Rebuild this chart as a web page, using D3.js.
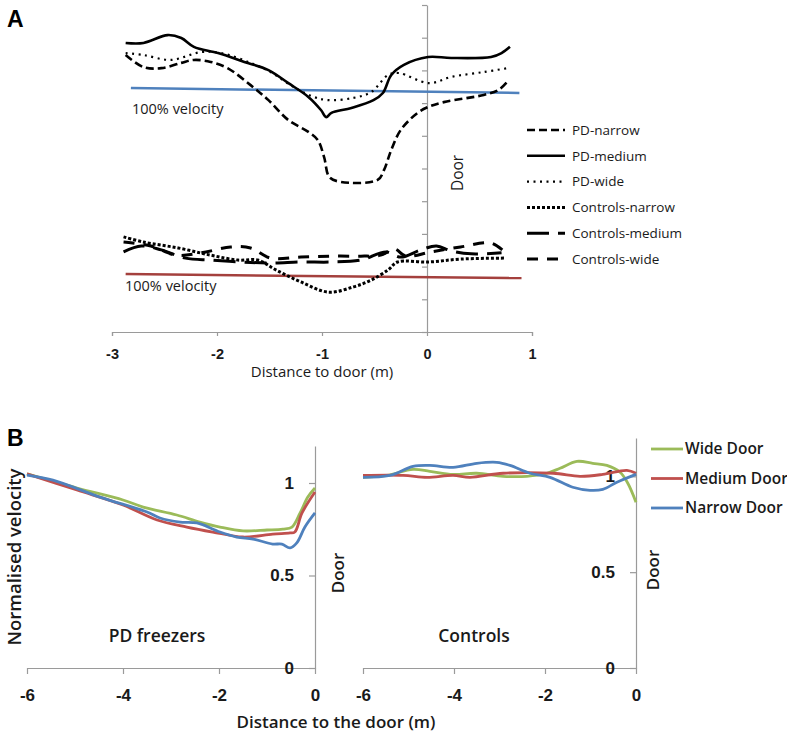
<!DOCTYPE html>
<html>
<head>
<meta charset="utf-8">
<script src="https://cdn.jsdelivr.net/npm/d3@7"></script>
<style>
  body { margin: 0; background: #fff; }
  svg { font-family: "Open Sans", "Liberation Sans", sans-serif; }
  .axis path, .axis line { stroke: #9a9a9a; stroke-width: 1.2; }
  .axis text { fill: #1a1a1a; }
  .axisA text { font-size: 14.5px; font-weight: 600; }
  .axisB text { font-size: 17px; font-weight: 700; }
</style>
</head>
<body>
<div id="vis"></div>
<script>
// ---- panel A data (distance to door m, velocity in grid units) ----
var aTicksX = [-3, -2, -1, 0, 1];
var aTicksY = [0, 1, 2, 3, 4, 5, 6, 7, 8, 9, 10];
var aSeries = ['PD-narrow', 'PD-medium', 'PD-wide', 'Controls-narrow', 'Controls-medium', 'Controls-wide'];

var pdNarrow = [[-2.87,8.47],[-2.70,8.10],[-2.53,8.07],[-2.34,8.23],[-2.22,8.32],[-2.06,8.26],[-1.90,8.07],[-1.68,7.55],[-1.51,7.09],[-1.32,6.48],[-1.13,6.12],[-1.04,5.87],[-0.98,5.35],[-0.93,4.74],[-0.82,4.59],[-0.47,4.65],[-0.41,4.95],[-0.34,5.57],[-0.25,6.18],[-0.09,6.70],[0.01,6.88],[0.16,7.03],[0.54,7.25],[0.68,7.40],[0.78,7.71]];
var pdMedium = [[-2.87,8.84],[-2.70,8.84],[-2.47,9.08],[-2.34,8.99],[-2.22,8.72],[-1.99,8.53],[-1.74,8.26],[-1.51,8.01],[-1.32,7.61],[-1.13,7.19],[-1.01,6.79],[-0.96,6.57],[-0.91,6.70],[-0.72,6.85],[-0.51,7.09],[-0.42,7.31],[-0.34,7.86],[-0.22,8.17],[0.01,8.41],[0.23,8.38],[0.61,8.41],[0.71,8.53],[0.79,8.72]];
var pdWide = [[-2.87,8.53],[-2.70,8.47],[-2.44,8.32],[-2.15,8.56],[-1.96,8.53],[-1.68,8.23],[-1.49,7.95],[-1.27,7.49],[-1.08,7.19],[-0.94,7.09],[-0.70,7.16],[-0.53,7.34],[-0.37,7.86],[-0.27,7.92],[0.02,7.61],[0.23,7.80],[0.54,7.95],[0.77,8.07]];
var ctrlNarrow = [[-2.89,2.91],[-2.70,2.75],[-2.37,2.57],[-2.06,2.35],[-1.80,2.20],[-1.61,2.20],[-1.44,1.90],[-1.20,1.53],[-0.94,1.22],[-0.70,1.38],[-0.53,1.59],[-0.37,1.90],[-0.28,2.14],[0.01,2.14],[0.32,2.23],[0.75,2.26]];
var ctrlMedium = [[-2.89,2.45],[-2.72,2.63],[-2.53,2.51],[-2.30,2.26],[-2.06,2.20],[-1.77,2.14],[-1.49,2.11],[-1.20,2.14],[-0.91,2.14],[-0.63,2.20],[-0.39,2.45],[-0.25,2.29],[-0.06,2.51],[0.09,2.63],[0.23,2.48],[0.42,2.39],[0.71,2.42]];
var ctrlWide = [[-2.89,2.75],[-2.63,2.63],[-2.39,2.35],[-2.15,2.42],[-1.87,2.60],[-1.68,2.57],[-1.49,2.26],[-1.20,2.29],[-0.91,2.32],[-0.63,2.32],[-0.44,2.35],[-0.31,2.54],[-0.20,2.32],[0.04,2.45],[0.32,2.60],[0.61,2.72],[0.75,2.42]];
var pdRef = [[-2.82,7.46],[0.88,7.31]];
var ctrlRef = [[-2.87,1.77],[0.90,1.65]];

// ---- panel B data (distance to door m, normalised velocity) ----
var bTicksX = [-6, -4, -2, 0];
var bTicksY = [0, 0.5, 1];
var bSeries = ['Wide Door', 'Medium Door', 'Narrow Door'];

var pdWideB = [[-6,1.049],[-4.96,0.973],[-4,0.908],[-3.58,0.870],[-2.88,0.827],[-2.4,0.789],[-1.98,0.762],[-1.5,0.741],[-1,0.746],[-0.67,0.751],[-0.48,0.762],[-0.31,0.838],[-0.15,0.924],[0,0.973]];
var pdMediumB = [[-6,1.049],[-4.96,0.962],[-4,0.881],[-3.29,0.800],[-2.67,0.762],[-2.13,0.735],[-1.5,0.708],[-0.88,0.724],[-0.52,0.730],[-0.42,0.735],[-0.27,0.838],[0,0.951]];
var pdNarrowB = [[-6,1.043],[-5.46,1.016],[-4.48,0.924],[-3.5,0.843],[-3.23,0.811],[-2.81,0.789],[-2.46,0.784],[-1.98,0.735],[-1.63,0.708],[-1.29,0.697],[-0.88,0.670],[-0.69,0.670],[-0.52,0.649],[-0.38,0.676],[-0.21,0.762],[0,0.838]];
var ctrlWideB = [[-6,0.995],[-5.47,1.005],[-4.9,1.036],[-4.53,1.026],[-4.02,1.010],[-3.5,1.016],[-2.92,1.0],[-2.4,1.0],[-1.96,1.016],[-1.67,1.042],[-1.3,1.078],[-0.95,1.068],[-0.64,1.057],[-0.35,1.021],[-0.18,0.964],[0,0.865]];
var ctrlMediumB = [[-6,1.005],[-5.12,1.005],[-4.59,0.995],[-4.02,1.005],[-3.65,0.995],[-2.92,1.016],[-1.82,1.016],[-1.23,1.0],[-0.73,1.010],[-0.2,1.031],[0,1.016]];
var ctrlNarrowB = [[-6,0.995],[-5.41,1.005],[-4.9,1.052],[-4.53,1.057],[-4.02,1.047],[-3.5,1.068],[-3.06,1.073],[-2.77,1.057],[-2.33,1.016],[-1.89,0.995],[-1.39,0.943],[-1.01,0.927],[-0.73,0.932],[-0.42,0.969],[0,1.010]];

var svg = d3.select('#vis')
    .append('svg')
    .attr('width', 787)
    .attr('height', 746);

var ink = '#1a1a1a';
// plain hyphen minus like the original, not the unicode minus
var fmtInt = function(d) { return d < 0 ? '-' + Math.abs(d) : String(d); };

// ================= panel A =================
var xA = d3.scaleLinear().domain([-3, 1]).range([112, 532]);
var yA = d3.scaleLinear().domain([0, 10]).range([332, 5]);

var lineA = d3.line()
    .x(function(d) { return xA(d[0]); })
    .y(function(d) { return yA(d[1]); })
    .curve(d3.curveCatmullRom.alpha(0.5));

svg.append('g')
    .attr('class', 'axis axisA')
    .attr('transform', 'translate(0,' + yA(0) + ')')
    .call(d3.axisBottom(xA).tickValues(aTicksX).tickSize(4).tickPadding(10).tickFormat(fmtInt))
    .call(function(g) { g.selectAll('text').attr('dy', '0.9em'); });

svg.append('g')
    .attr('class', 'axis axisA')
    .attr('transform', 'translate(' + xA(0) + ',0)')
    .call(d3.axisLeft(yA).tickValues(aTicksY).tickSize(5).tickSizeOuter(0).tickFormat(''));

// dash styles for panel A series
var aStyle = {
    'PD-narrow': { dash: '8,4', w: 2.6 },
    'PD-medium': { dash: null, w: 2.6 },
    'PD-wide': { dash: '2,4.5', w: 2.2 },
    'Controls-narrow': { dash: '3,2', w: 3 },
    'Controls-medium': { dash: '22,9', w: 3 },
    'Controls-wide': { dash: '11,9', w: 3 }
};
var aData = {
    'PD-narrow': pdNarrow,
    'PD-medium': pdMedium,
    'PD-wide': pdWide,
    'Controls-narrow': ctrlNarrow,
    'Controls-medium': ctrlMedium,
    'Controls-wide': ctrlWide
};

svg.append('path')
    .datum(pdRef)
    .attr('d', lineA)
    .attr('fill', 'none')
    .attr('stroke', '#4f81bd')
    .attr('stroke-width', 2.5);

svg.append('path')
    .datum(ctrlRef)
    .attr('d', lineA)
    .attr('fill', 'none')
    .attr('stroke', '#a4403d')
    .attr('stroke-width', 2.5);

svg.selectAll('.aline')
    .data(aSeries)
    .enter()
    .append('path')
    .attr('class', 'aline')
    .attr('d', function(s) { return lineA(aData[s]); })
    .attr('fill', 'none')
    .attr('stroke', 'black')
    .attr('stroke-width', function(s) { return aStyle[s].w; })
    .attr('stroke-dasharray', function(s) { return aStyle[s].dash; });

// panel A legend
var legA = svg.selectAll('.legA')
    .data(aSeries)
    .enter()
    .append('g')
    .attr('class', 'legA')
    .attr('transform', function(d, i) { return 'translate(527,' + (130 + i * 25.8) + ')'; });

legA.append('line')
    .attr('x1', 0).attr('x2', 38)
    .attr('stroke', 'black')
    .attr('stroke-width', function(s) { return aStyle[s].w; })
    .attr('stroke-dasharray', function(s) { return aStyle[s].dash; });

legA.append('text')
    .attr('x', 45)
    .attr('dy', '0.35em')
    .style('font-size', '13.5px')
    .style('fill', ink)
    .text(function(s) { return s; });

svg.append('text')
    .attr('x', 132).attr('y', 114)
    .style('font-size', '14.5px')
    .style('fill', ink)
    .text('100% velocity');

svg.append('text')
    .attr('x', 125).attr('y', 291)
    .style('font-size', '14.5px')
    .style('fill', ink)
    .text('100% velocity');

svg.append('text')
    .attr('transform', 'translate(463,173) rotate(-90)')
    .attr('text-anchor', 'middle')
    .style('font-size', '15.5px')
    .style('fill', ink)
    .text('Door');

svg.append('text')
    .attr('x', 322).attr('y', 377)
    .attr('text-anchor', 'middle')
    .style('font-size', '15px')
    .style('fill', ink)
    .text('Distance to door (m)');

svg.append('text')
    .attr('x', 7).attr('y', 27)
    .style('font-size', '23px')
    .style('font-weight', 700)
    .style('font-family', 'Liberation Sans, sans-serif')
    .style('fill', 'black')
    .text('A');

// ================= panel B =================
var colB = { 'Wide Door': '#9bbb59', 'Medium Door': '#c0504d', 'Narrow Door': '#4f81bd' };

function drawB(x, y, data, title, titleX) {
    var line = d3.line()
        .x(function(d) { return x(d[0]); })
        .y(function(d) { return y(d[1]); })
        .curve(d3.curveCatmullRom.alpha(0.5));

    svg.append('g')
        .attr('class', 'axis axisB')
        .attr('transform', 'translate(0,' + y(0) + ')')
        .call(d3.axisBottom(x).tickValues(bTicksX).tickSize(6).tickPadding(15).tickSizeOuter(0).tickFormat(fmtInt));

    svg.append('g')
        .attr('class', 'axis axisB')
        .attr('transform', 'translate(' + x(0) + ',0)')
        .call(d3.axisLeft(y).tickValues(bTicksY).tickSize(6).tickPadding(15).tickSizeOuter(0).tickFormat(function(d) { return d; }));

    svg.selectAll(null)
        .data(bSeries)
        .enter()
        .append('path')
        .attr('d', function(s) { return line(data[s]); })
        .attr('fill', 'none')
        .attr('stroke', function(s) { return colB[s]; })
        .attr('stroke-width', 2.8);

    svg.append('text')
        .attr('x', titleX).attr('y', 642)
        .attr('text-anchor', 'middle')
        .style('font-size', '17.5px')
        .style('font-weight', 600)
        .style('fill', ink)
        .text(title);
}

var xL = d3.scaleLinear().domain([-6, 0]).range([27, 315]);
var yL = d3.scaleLinear().domain([0, 1.2]).range([668, 446]);
var xR = d3.scaleLinear().domain([-6, 0]).range([363, 636]);
var yR = d3.scaleLinear().domain([0, 1.2]).range([668, 438]);

drawB(xL, yL, { 'Wide Door': pdWideB, 'Medium Door': pdMediumB, 'Narrow Door': pdNarrowB }, 'PD freezers', 157);
drawB(xR, yR, { 'Wide Door': ctrlWideB, 'Medium Door': ctrlMediumB, 'Narrow Door': ctrlNarrowB }, 'Controls', 474);

// panel B legend
var legB = svg.selectAll('.legB')
    .data(bSeries)
    .enter()
    .append('g')
    .attr('class', 'legB')
    .attr('transform', function(d, i) { return 'translate(651,' + (449 + i * 29.5) + ')'; });

legB.append('line')
    .attr('x1', 0).attr('x2', 32)
    .attr('stroke', function(s) { return colB[s]; })
    .attr('stroke-width', 2.8);

legB.append('text')
    .attr('x', 34)
    .attr('dy', '0.35em')
    .style('font-size', '15.5px')
    .style('font-weight', 600)
    .style('fill', ink)
    .text(function(s) { return s; });

svg.append('text')
    .attr('transform', 'translate(21,557) rotate(-90)')
    .attr('text-anchor', 'middle')
    .style('font-size', '18.5px')
    .style('font-weight', 600)
    .style('fill', ink)
    .text('Normalised velocity');

svg.append('text')
    .attr('transform', 'translate(344,573) rotate(-90)')
    .attr('text-anchor', 'middle')
    .style('font-size', '17px')
    .style('font-weight', 600)
    .style('fill', ink)
    .text('Door');

svg.append('text')
    .attr('transform', 'translate(659,570) rotate(-90)')
    .attr('text-anchor', 'middle')
    .style('font-size', '17px')
    .style('font-weight', 600)
    .style('fill', ink)
    .text('Door');

svg.append('text')
    .attr('x', 336).attr('y', 728)
    .attr('text-anchor', 'middle')
    .style('font-size', '17px')
    .style('font-weight', 600)
    .style('fill', ink)
    .text('Distance to the door (m)');

svg.append('text')
    .attr('x', 7).attr('y', 446)
    .style('font-size', '23px')
    .style('font-weight', 700)
    .style('font-family', 'Liberation Sans, sans-serif')
    .style('fill', 'black')
    .text('B');
</script>
</body>
</html>
